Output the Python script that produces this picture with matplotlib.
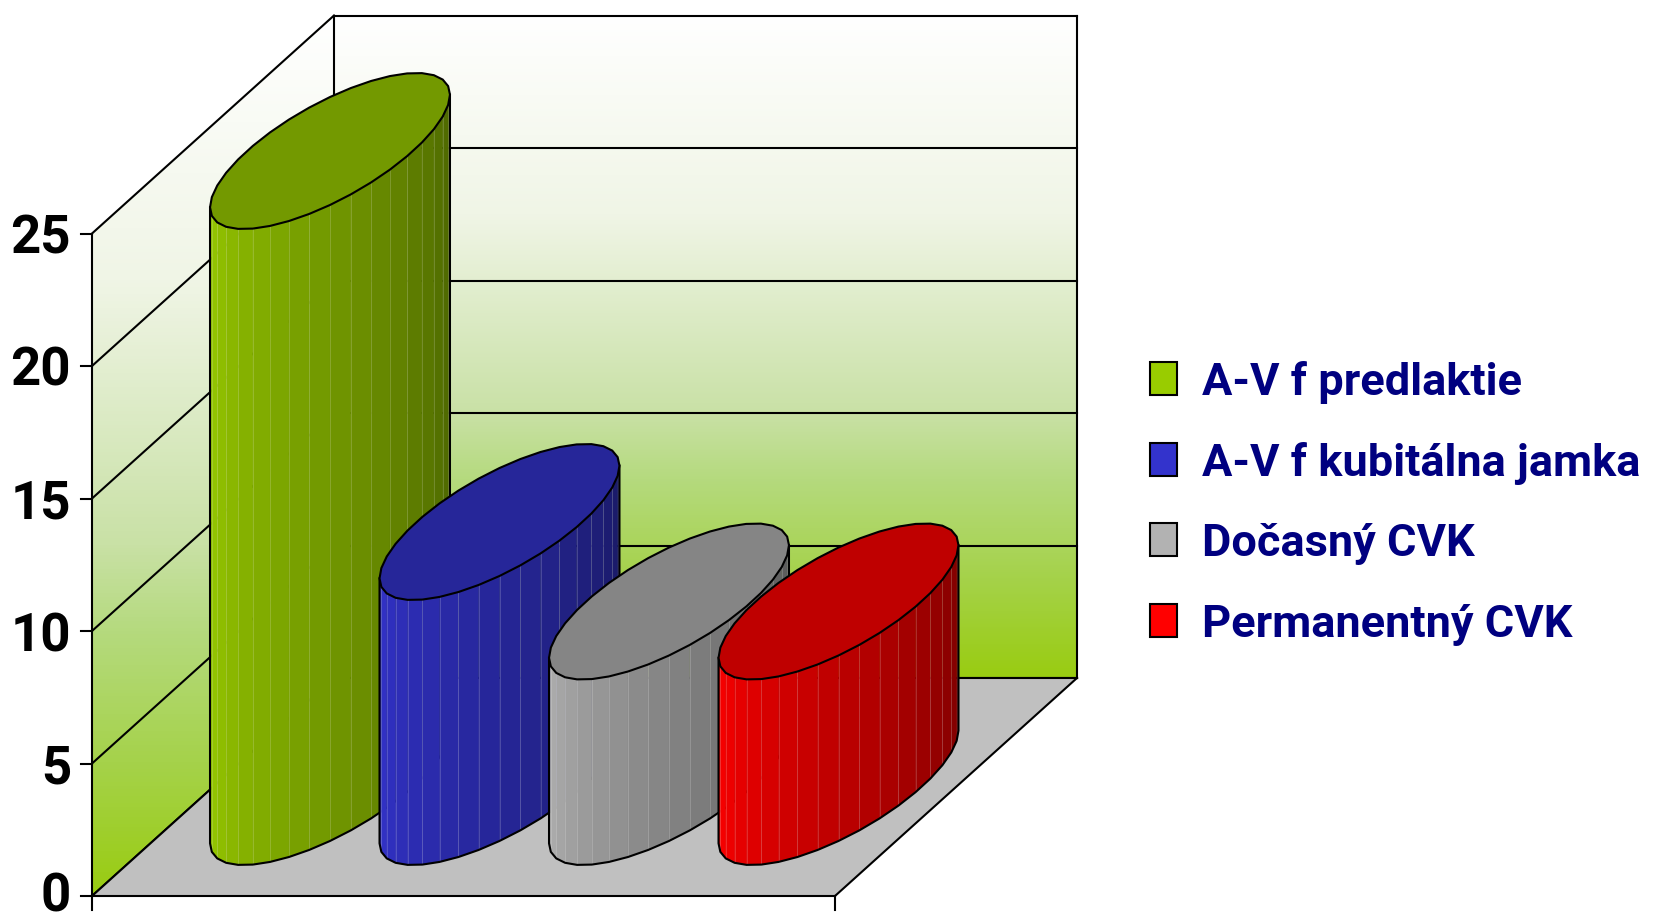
import matplotlib
matplotlib.use('Agg')
import matplotlib.pyplot as plt
import numpy as np
from matplotlib.colors import LinearSegmentedColormap, to_rgb
from matplotlib.patches import Polygon, Rectangle

categories = ['A-V f predlaktie', 'A-V f kubitálna jamka', 'Dočasný CVK', 'Permanentný CVK']
values = [24, 10, 7, 7]
y_ticks = [0, 5, 10, 15, 20, 25]
side_colors = ['#99cc00', '#3333cc', '#b2b2b2', '#ff0000']

# oblique projection, figure pixels
X0, Y0 = 92, 896
FLOOR_W = 743
PER_UNIT = 26.5
DEPTH_X, DEPTH_Y = 242, 218
BAR_START = 117
BAR_STEP = 169.5
BAR_RX = 83
BAR_RD = 0.358


def proj(x, v, d):
    return X0 + x + d * DEPTH_X, Y0 - v * PER_UNIT - d * DEPTH_Y


def shade(color, f):
    return tuple(c * f for c in to_rgb(color))


def seg(a, b, z):
    ax.plot([a[0], b[0]], [a[1], b[1]], color='k', lw=LW, zorder=z, solid_capstyle='projecting')


fig = plt.figure(figsize=(16.55, 9.16), dpi=100)
ax = fig.add_axes([0, 0, 1, 1])

LW = 1.5
wall_cmap = LinearSegmentedColormap.from_list('wall', [(0, '#ffffff'), (0.3, '#f0f5e6'), (0.6, '#c9e1a6'),
                                                       (0.7, '#b5da7e'), (0.85, '#a5d24a'), (1, '#99cc11')])
top_v = 25

back = Polygon([proj(0, 0, 1), proj(FLOOR_W, 0, 1), proj(FLOOR_W, top_v, 1), proj(0, top_v, 1)],
               fc='none', ec='none')
side = Polygon([proj(0, 0, 0), proj(0, 0, 1), proj(0, top_v, 1), proj(0, top_v, 0)],
               fc='none', ec='none')
ax.add_patch(back)
ax.add_patch(side)
grad = np.linspace(0, 1, 256).reshape(-1, 1)
im = ax.imshow(grad, cmap=wall_cmap, aspect='auto', extent=[334, 1078, 678, 15], zorder=1)
im.set_clip_path(back)
im2 = ax.imshow(grad, cmap=wall_cmap, aspect='auto', extent=[92, 334, 896, 15], zorder=1)
im2.set_clip_path(side)
ax.set_xlim(0, 1655)
ax.set_ylim(916, 0)
ax.axis('off')

# gridlines on both walls
for t in y_ticks:
    a, b, c = proj(0, t, 0), proj(0, t, 1), proj(FLOOR_W, t, 1)
    seg(a, b, 2)
    seg(b, c, 2)
    seg((a[0] - 11, a[1]), a, 2)
    # the 0 sits just above the bottom edge so it is not cut off
    ax.text(71, min(a[1], 892), str(t), ha='right', va='center_baseline', fontsize=38, fontweight='bold',
            family='Roboto', color='k')
seg(proj(0, top_v, 1), proj(0, 0, 1), 2)
seg(proj(FLOOR_W, top_v, 1), proj(FLOOR_W, 0, 1), 2)
a, b = proj(0, 0, 0), proj(0, top_v, 0)
seg((a[0], a[1] + 14), b, 2)

# floor
floor = Polygon([proj(0, 0, 0), proj(FLOOR_W, 0, 0), proj(FLOOR_W, 0, 1), proj(0, 0, 1)],
                fc='#c0c0c0', ec='none', zorder=3)
ax.add_patch(floor)
seg(proj(0, 0, 0), proj(0, 0, 1), 3)
seg(proj(0, 0, 1), proj(FLOOR_W, 0, 1), 3)
seg(proj(FLOOR_W, 0, 1), proj(FLOOR_W, 0, 0), 3)
a, b = proj(0, 0, 0), proj(FLOOR_W, 0, 0)
seg(a, b, 3)
seg(b, (b[0], b[1] + 14), 3)

# cylinders, faceted like the source
n_strips = 18
rd_px = BAR_RD * DEPTH_X
t_ext = np.arctan2(rd_px, BAR_RX)
for i, (val, col) in enumerate(zip(values, side_colors)):
    z = 4 + i
    xc = BAR_START + i * BAR_STEP
    ts = np.linspace(t_ext + np.pi, t_ext + 2 * np.pi, n_strips + 1)
    xs = xc + BAR_RX * np.cos(ts)
    ds = 0.5 + BAR_RD * np.sin(ts)
    for j in range(n_strips):
        f = 1.0 - 0.52 * (j + 0.5) / n_strips
        p0 = proj(xs[j], 0, ds[j])
        p1 = proj(xs[j + 1], 0, ds[j + 1])
        p2 = proj(xs[j + 1], val, ds[j + 1])
        p3 = proj(xs[j], val, ds[j])
        c = shade(col, f)
        ax.add_patch(Polygon([p0, p1, p2, p3], fc=c, ec=c, lw=0.3, zorder=z))
        if j > 0:
            ax.plot([p0[0], p3[0]], [p0[1], p3[1]], color='w', alpha=0.18, lw=0.7, zorder=z + 0.05)
    # outline of the visible side
    front = [proj(x, 0, d) for x, d in zip(xs, ds)]
    fx, fy = zip(*front)
    tl = proj(xs[0], val, ds[0])
    tr = proj(xs[-1], val, ds[-1])
    ax.plot([tl[0]] + list(fx) + [tr[0]], [tl[1]] + list(fy) + [tr[1]], color='k', lw=LW, zorder=z + 0.1)
    # top cap
    tc = np.linspace(t_ext, t_ext + 2 * np.pi, 2 * n_strips + 1)
    cap = [proj(xc + BAR_RX * np.cos(t), val, 0.5 + BAR_RD * np.sin(t)) for t in tc]
    ax.add_patch(Polygon(cap, fc=shade(col, 0.75), ec='k', lw=LW, zorder=z + 0.2))

# legend
for i, label in enumerate(categories):
    yc = 379 + i * 80.7
    ax.add_patch(Rectangle((1150, yc - 17), 27, 33, fc=side_colors[i], ec='k', lw=LW, zorder=10))
    ax.text(1202, yc + 16, label, ha='left', va='baseline', fontsize=32.5, fontweight='bold',
            family='Roboto', color='#000080', zorder=10)

plt.savefig('out.png', dpi=100)
